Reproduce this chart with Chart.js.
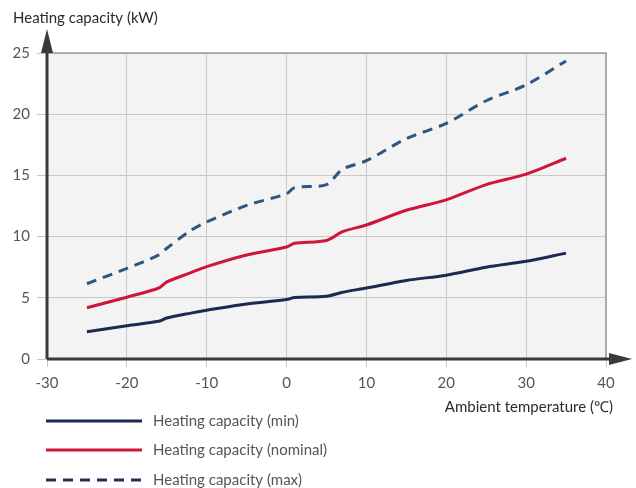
<!DOCTYPE html>
<html><head><meta charset="utf-8">
<script src="https://cdn.jsdelivr.net/npm/chart.js@4/dist/chart.umd.min.js"></script>
<style>html,body{margin:0;padding:0;background:#fff;}#wrap{width:636px;height:488px;position:relative;}</style>
</head><body><div id="wrap"><canvas id="c" width="636" height="488"></canvas></div>
<script>
const temps = [-25, -20, -16, -15, -12, -10, -5, 0, 1, 5, 7, 10, 15, 20, 25, 30, 35];
const capMin = [2.23, 2.72, 3.08, 3.35, 3.75, 3.98, 4.5, 4.86, 5.02, 5.12, 5.45, 5.8, 6.42, 6.85, 7.5, 7.98, 8.65];
const capNominal = [4.19, 5.05, 5.8, 6.3, 7.05, 7.55, 8.5, 9.15, 9.45, 9.68, 10.4, 10.95, 12.15, 13.0, 14.25, 15.1, 16.4];
const capMax = [6.15, 7.4, 8.5, 9.05, 10.5, 11.2, 12.55, 13.5, 14.0, 14.25, 15.5, 16.2, 18.0, 19.25, 21.1, 22.4, 24.35];
const seriesLabels = ['Heating capacity (min)', 'Heating capacity (nominal)', 'Heating capacity (max)'];
const xTicks = [-30, -20, -10, 0, 10, 20, 30, 40];
const yTicks = [0, 5, 10, 15, 20, 25];
const yTitle = 'Heating capacity (kW)';
const xTitle = 'Ambient temperature (\u2103)';

const FONT = 'Lato, "Open Sans", sans-serif';
const toPts = arr => temps.map((t, i) => ({x: t, y: arr[i]}));

const decor = {
  id: 'decor',
  beforeDraw(chart) {
    const {ctx, chartArea: a} = chart;
    ctx.save();
    ctx.fillStyle = '#f3f3f3';
    ctx.fillRect(a.left, a.top, a.right - a.left, a.bottom - a.top);
    ctx.restore();
  },
  afterDraw(chart) {
    const {ctx, chartArea: a} = chart;
    ctx.save();
    // top & right border
    ctx.strokeStyle = '#9a9a9a';
    ctx.lineWidth = 1.5;
    ctx.beginPath();
    ctx.moveTo(a.left, a.top); ctx.lineTo(a.right, a.top); ctx.lineTo(a.right, a.bottom);
    ctx.stroke();
    // axes
    ctx.strokeStyle = '#3a3a3a';
    ctx.fillStyle = '#3a3a3a';
    ctx.lineWidth = 3;
    ctx.beginPath();
    ctx.moveTo(a.left, a.bottom); ctx.lineTo(a.left, a.top - 2);
    ctx.moveTo(a.left, a.bottom); ctx.lineTo(a.right + 6, a.bottom);
    ctx.stroke();
    // y arrow
    ctx.beginPath();
    ctx.moveTo(a.left, a.top - 24);
    ctx.lineTo(a.left - 6, a.top);
    ctx.lineTo(a.left + 6, a.top);
    ctx.closePath(); ctx.fill();
    // x arrow
    ctx.beginPath();
    ctx.moveTo(a.right + 26, a.bottom);
    ctx.lineTo(a.right + 3, a.bottom - 6);
    ctx.lineTo(a.right + 3, a.bottom + 6);
    ctx.closePath(); ctx.fill();
    // titles
    ctx.fillStyle = '#2b2b2b';
    ctx.font = '15px ' + FONT;
    ctx.textBaseline = 'middle';
    ctx.textAlign = 'left';
    ctx.fillText(yTitle, 13, 18);
    ctx.textAlign = 'right';
    ctx.fillText(xTitle, 613, 407);
    // legend
    const rows = [421, 450, 480];
    chart.data.datasets.forEach((ds, i) => {
      const y = rows[i];
      ctx.strokeStyle = ds.legendColor || ds.borderColor;
      ctx.lineWidth = 3;
      ctx.setLineDash(ds.borderDash || []);
      ctx.beginPath(); ctx.moveTo(46, y); ctx.lineTo(142, y); ctx.stroke();
      ctx.setLineDash([]);
      ctx.fillStyle = '#555';
      ctx.textAlign = 'left';
      ctx.font = '15px ' + FONT;
      ctx.fillText(ds.label, 153, y);
    });
    ctx.restore();
  }
};

new Chart(document.getElementById('c'), {
  type: 'line',
  data: {
    datasets: [
      {label: seriesLabels[0], data: toPts(capMin), borderColor: '#1b2a4e', borderWidth: 3, pointRadius: 0, tension: 0.3, fill: false},
      {label: seriesLabels[1], data: toPts(capNominal), borderColor: '#d0143a', borderWidth: 3, pointRadius: 0, tension: 0.3, fill: false},
      {label: seriesLabels[2], data: toPts(capMax), borderColor: '#2f5582', legendColor: '#1f3056', borderWidth: 3, borderDash: [10, 7], pointRadius: 0, tension: 0.3, fill: false}
    ]
  },
  options: {
    responsive: false,
    animation: false,
    layout: {padding: {top: 53, right: 30, left: 0, bottom: 0}},
    plugins: {legend: {display: false}, tooltip: {enabled: false}},
    scales: {
      x: {
        type: 'linear', min: -30, max: 40,
        afterBuildTicks: s => { s.ticks = xTicks.map(v => ({value: v})); },
        afterFit: s => { s.height = 129; },
        grid: {color: '#c8c8c8', lineWidth: 1, tickLength: 8, drawOnChartArea: true},
        border: {display: false},
        ticks: {font: {family: FONT, size: 15}, color: '#555', padding: 7, maxRotation: 0}
      },
      y: {
        min: 0, max: 25,
        afterBuildTicks: s => { s.ticks = yTicks.map(v => ({value: v})); },
        afterFit: s => { s.width = 47; },
        grid: {color: '#c8c8c8', lineWidth: 1, tickLength: 10},
        border: {display: false},
        ticks: {font: {family: FONT, size: 15}, color: '#555', padding: 7}
      }
    }
  },
  plugins: [decor]
});
</script>
</body></html>
